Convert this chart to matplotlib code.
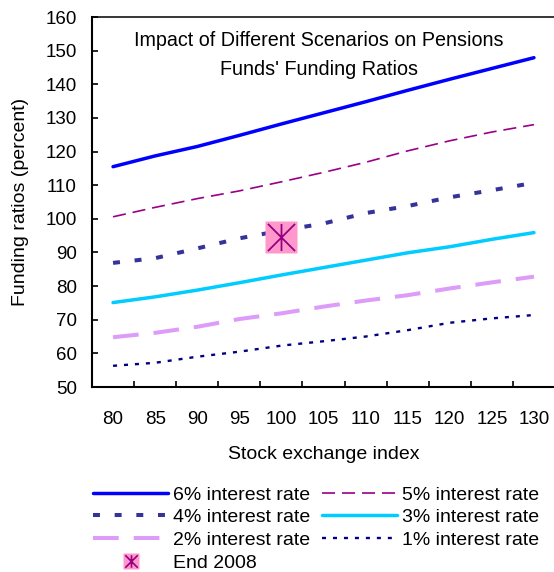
import matplotlib.pyplot as plt
from matplotlib.lines import Line2D
from matplotlib.path import Path
from matplotlib.legend_handler import HandlerTuple

plt.rcParams['font.family'] = ['Liberation Sans', 'DejaVu Sans']
plt.rcParams['lines.scale_dashes'] = False

# data
index = [80, 85, 90, 95, 100, 105, 110, 115, 120, 125, 130]
rate6 = [115.5, 118.7, 121.5, 124.8, 128.2, 131.5, 134.8, 138.2, 141.5, 144.7, 147.9]
rate5 = [100.6, 103.4, 106.0, 108.3, 111.0, 113.8, 116.8, 120.2, 123.2, 125.8, 128.0]
rate4 = [86.9, 88.3, 91.2, 94.2, 96.5, 98.6, 101.7, 103.8, 106.4, 108.5, 110.7]
rate3 = [75.1, 76.8, 78.8, 81.0, 83.3, 85.5, 87.7, 89.9, 91.7, 93.9, 95.9]
rate2 = [64.8, 66.1, 67.9, 70.2, 71.9, 73.9, 75.7, 77.3, 79.3, 81.1, 82.8]
rate1 = [56.3, 57.2, 59.0, 60.5, 62.3, 63.6, 65.0, 66.9, 69.1, 70.4, 71.4]
end2008_x = [100]
end2008_y = [94.5]

W, H = 554, 572
fig = plt.figure(figsize=(W / 100, H / 100), dpi=100)
ax = fig.add_axes([92 / W, (H - 387) / H, 463 / W, 370 / H])

l6, = ax.plot(index, rate6, color='#0000FF', lw=2.5, solid_capstyle='round')
l5, = ax.plot(index, rate5, color='#990088', lw=1.2, dashes=(9.4, 5), dash_capstyle='butt')
l4, = ax.plot(index, rate4, color='#333399', lw=2.9, dashes=(5, 10.6), dash_capstyle='butt')
l3, = ax.plot(index, rate3, color='#00CCFF', lw=2.5, solid_capstyle='round')
l2, = ax.plot(index, rate2, color='#DD9CF8', lw=2.9, dashes=(18.5, 10.8), dash_capstyle='butt')
l1, = ax.plot(index, rate1, color='#000080', lw=1.7, dashes=(2.9, 5), dash_capstyle='butt')

# star marker: X with a vertical bar
star = Path([(-1, -1), (1, 1), (-1, 1), (1, -1), (0, -1), (0, 1)],
            [Path.MOVETO, Path.LINETO, Path.MOVETO, Path.LINETO, Path.MOVETO, Path.LINETO])
ax.plot(end2008_x, end2008_y, ls='none', marker='s', ms=23, mfc='#FF99CC', mec='none')
ax.plot(end2008_x, end2008_y, ls='none', marker=star, ms=19.5, mec='#990080', mew=1.3)

ax.set_xlim(77.5, 132.5)
ax.set_ylim(50, 160)
ax.set_yticks(range(50, 161, 10))
ax.set_xticks(index)
ax.set_xticks([i + 2.5 for i in index[:-1]], minor=True)
ax.tick_params(axis='x', which='major', length=0, pad=17, labelsize=13.5)
ax.tick_params(axis='x', which='minor', direction='in', length=4, width=1.2)
ax.tick_params(axis='y', direction='in', length=4, width=1.2, pad=11, labelsize=13.5)
ax.spines['right'].set_visible(False)
for s in ['left', 'bottom']:
    ax.spines[s].set_linewidth(1.5)
ax.spines['top'].set_linewidth(1.1)

ax.set_xlabel('Stock exchange index', fontsize=14, labelpad=13)
ax.set_ylabel('Funding ratios (percent)', fontsize=14, labelpad=11.5)

fig.text(319 / W, 1 - 40.6 / H, 'Impact of Different Scenarios on Pensions',
         ha='center', va='center', fontsize=14.2)
fig.text(319 / W, 1 - 69.6 / H, "Funds' Funding Ratios",
         ha='center', va='center', fontsize=14.2)

# legend proxy for the marker
sq = Line2D([], [], ls='none', marker='s', ms=11, mfc='#FF99CC', mec='none')
st = Line2D([], [], ls='none', marker=star, ms=9, mec='#990080', mew=1.2)

handles = [l6, l4, l2, (sq, st), l5, l3, l1]
labels = ['6% interest rate', '4% interest rate', '2% interest rate', 'End 2008',
          '5% interest rate', '3% interest rate', '1% interest rate']
fig.legend(handles, labels, ncol=2, loc='upper left',
           bbox_to_anchor=(93 / W, 1 - 486 / H), bbox_transform=fig.transFigure,
           frameon=False, fontsize=14, handlelength=3.86, handletextpad=0.26,
           columnspacing=0.6, labelspacing=0.26, borderpad=0, borderaxespad=0,
           handler_map={tuple: HandlerTuple(ndivide=1)})

fig.savefig('out.png', dpi=100)
